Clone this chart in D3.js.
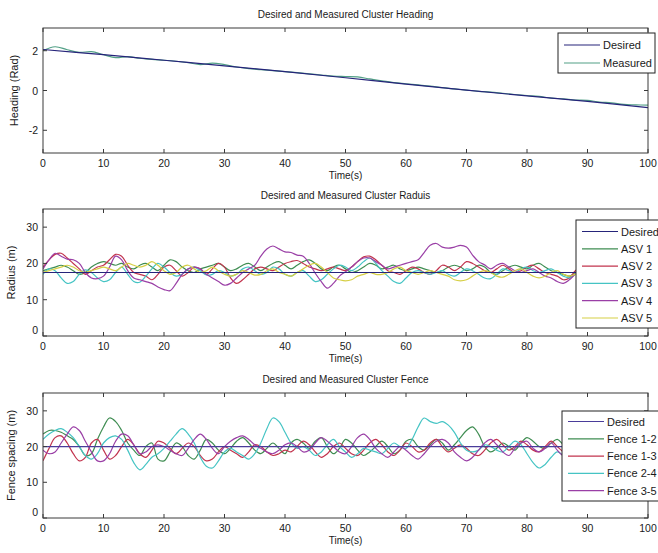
<!DOCTYPE html>
<html>
<head>
<meta charset="utf-8">
<script src="https://cdn.jsdelivr.net/npm/d3@7/dist/d3.min.js"></script>
<style>
  body { margin: 0; background: #fff; }
  svg { display: block; font-family: "Liberation Sans", Arial, sans-serif; }
  .tick-label { font-size: 10.5px; fill: #1a1a1a; }
  .title { font-size: 10px; fill: #1a1a1a; }
  .legend-text { font-size: 11px; fill: #1a1a1a; }
</style>
</head>
<body>
<svg id="chart" width="658" height="553"></svg>
<script>
// ######## data ########

const xTicks = [0, 10, 20, 30, 40, 50, 60, 70, 80, 90, 100];

// heading panel
const headingTicks = [-2, 0, 2];
const headingDesiredT = [0, 10, 20, 30, 40, 50, 60, 70, 80, 90, 100];
const headingDesired = [2.06, 1.8, 1.52, 1.24, 0.95, 0.64, 0.32, 0.02, -0.27, -0.55, -0.86];
const headingMeasuredT = d3.range(0, 101, 2);
const headingMeasured = [2.0, 2.2, 2.05, 1.92, 1.95, 1.8, 1.65, 1.7, 1.62, 1.56,
  1.52, 1.47, 1.4, 1.3, 1.38, 1.3, 1.18, 1.1, 1.05, 1.0,
  0.95, 0.9, 0.84, 0.78, 0.72, 0.7, 0.68, 0.58, 0.48, 0.4,
  0.34, 0.28, 0.22, 0.14, 0.08, 0.02, -0.04, -0.08, -0.14, -0.2,
  -0.25, -0.3, -0.38, -0.42, -0.48, -0.5, -0.58, -0.62, -0.7, -0.72, -0.74];

// radius panel (one sample per second, 0..100 s)
const tSec = d3.range(0, 101, 1);
const radiusTicks = [0, 10, 20, 30];
const radiusDesired = 17.5;
const asv1 = [18, 18.5, 19, 19.5, 19, 18, 17, 17.5, 19, 20, 20.5, 20, 19.5, 20, 19, 18.5, 19.5, 20, 19, 18,
  19.5, 21, 20.5, 19, 18, 17.5, 18.5, 19, 19.5, 20, 19, 18, 18.5, 19.5, 20, 19, 18, 19, 20, 20.5,
  19.5, 18.5, 19.5, 20.5, 21, 20, 18.5, 18, 19, 19.5, 18.5, 17.5, 18, 19, 20, 19.5, 18.5, 19, 19.5, 18.5,
  18, 18.5, 19, 18.5, 18, 17.5, 18, 19, 19.5, 19, 18, 18.5, 19.5, 19, 17.5, 17, 18, 19, 19.5, 19,
  18.5, 19.5, 20, 19, 18, 17.5, 17, 16.5, 17.5, 18.5, 19, 18.5, 18, 18.5, 19, 18, 17.5, 18, 18.5, 19, 18.5];
const asv2 = [19, 21, 22.5, 22.8, 21.5, 20, 18.5, 17, 18, 19, 19.5, 21, 22.5, 22, 19.5, 17.5, 17, 16.5, 15.5, 17,
  19, 19.5, 18, 16.5, 17.5, 19, 18.5, 17, 18.5, 20, 19, 16, 14.5, 15.5, 17, 18.5, 19, 18.5, 18, 19,
  20, 20.5, 20.8, 20, 19, 18.5, 18, 18.5, 19, 18.5, 18, 19, 20.5, 21.8, 22, 21, 19.5, 18, 17.5, 17,
  18, 19, 18.5, 17.5, 17, 18, 19.5, 19, 18, 19, 20.5, 20, 19, 18, 17.5, 18.5, 19.5, 18.5, 17.5, 18,
  19, 19.5, 18.5, 17.5, 17, 16.5, 15.5, 16, 18, 19, 18.5, 18, 17.5, 18, 18.5, 19, 18.5, 18, 17.5, 18, 18.5];
const asv3 = [17, 18.5, 18, 16, 14.5, 15, 17, 18.2, 17.5, 16, 15, 15.5, 17.5, 19, 17, 15, 14.8, 16.5, 18.5, 20,
  19, 17.5, 16.5, 17, 18.5, 19, 18, 16.8, 17, 18, 17.5, 16.5, 17, 18.5, 19, 18, 17, 17.5, 19, 18.5,
  17, 16.5, 17.5, 18, 16.5, 15, 15.5, 17, 18.5, 19.5, 19, 18, 19, 20.5, 21.5, 20, 18, 16.5, 15, 14.5,
  16, 17.5, 18, 17.5, 17, 17.5, 18, 17, 16.5, 17.5, 18.5, 18, 17, 16, 15.8, 17, 18.5, 18, 17.5, 18.5,
  19, 18, 17.5, 18, 18.5, 17.5, 16.5, 16, 17, 18, 18.5, 18, 17, 16.5, 17.5, 18.5, 19, 18, 17, 17.5, 18];
const asv4 = [18.5, 21, 22.8, 22, 21.2, 21, 20, 17.5, 16, 15.8, 16.5, 19, 22, 21, 18, 16, 15.5, 15, 14.5, 13.5,
  12.8, 12.5, 14.5, 17, 18.5, 19, 18.5, 17, 16, 15, 14, 14.5, 16, 17.5, 18.5, 19.5, 22, 24, 24.8, 24,
  23.2, 23, 22.3, 22, 20, 17.3, 15, 13.2, 14.5, 16.5, 17.7, 19, 20.5, 21.5, 21.5, 20.5, 19.5, 18.5, 19, 19.5,
  20, 20.5, 21, 23, 25, 25.5, 24.5, 24.2, 24.5, 25, 24.5, 22.3, 20.5, 19.6, 18.5, 19.5, 20, 19, 18, 17.5,
  18, 18.5, 17.5, 16.5, 16, 15, 14.5, 15.5, 17, 18, 18.5, 18, 17.5, 18, 19, 18.5, 17.5, 17, 17.5, 18, 18.5];
const asv5 = [17.5, 18, 18.5, 19, 19.5, 19, 18, 17.5, 18, 18.5, 19, 18.5, 18, 19, 20, 19.5, 19, 19.5, 20.5, 19.5,
  18, 17, 17.5, 19, 19.5, 18.5, 17.5, 18, 19, 18, 17, 16.5, 17, 18, 17.5, 16.8, 17, 18, 18.5, 17.5,
  17, 16.5, 17.5, 18.5, 19.5, 20, 19, 17.5, 16, 15.5, 15.2, 15.5, 16.5, 17, 17.5, 17, 17, 17.5, 18.5, 19,
  18, 17.5, 17, 17.5, 18, 17.5, 17, 16.5, 15.5, 15.2, 15.5, 16.5, 17.5, 18, 17.5, 16.5, 16.2, 17, 18, 18.5,
  17.5, 16.5, 16, 16.5, 17.5, 18, 17, 16.5, 17, 17.5, 18, 17.5, 17, 16.5, 17, 18, 18.5, 18, 17, 16.5, 17];

// fence panel (one sample per second, 0..100 s)
const fenceTicks = [0, 10, 20, 30];
const fenceDesired = 20;
const fence12 = [23.5, 24.5, 24.5, 24, 23, 22, 20, 17.5, 18, 22, 25.5, 28, 27, 24.5, 21, 19, 17.5, 20, 21, 16.5,
  16, 18.5, 21, 20, 17.5, 16.5, 19, 22, 21, 19, 18, 19.5, 21.5, 22.5, 21, 19, 18, 19.5, 21, 19.5,
  18, 21, 22, 21, 19.5, 21.5, 22.5, 20, 18, 19.5, 22, 21, 19, 17.5, 18.5, 20, 21.5, 20, 18, 19,
  21.5, 22, 20, 19, 20.5, 22, 21, 19, 20.5, 22.5, 24.5, 25.5, 23.5, 20, 18.5, 19.5, 21, 20, 19, 21,
  22.5, 21.5, 20, 19.5, 21, 22, 20.5, 19, 18.5, 20, 21.5, 21, 19.5, 19, 20.5, 21, 20, 19, 19.5, 21, 20.5];
const fence13 = [16, 19.5, 22.5, 23, 21, 18, 16, 17, 21, 22, 19, 16.5, 17.5, 20, 22, 20.5, 18, 17, 19, 21.5,
  21, 19.5, 18, 19.5, 21, 20, 17.5, 16, 16.5, 18.5, 20, 19, 18, 17, 18.5, 20.5, 20, 18.5, 17.5, 18,
  19, 18.5, 20, 21.5, 20.5, 18.5, 17, 18, 20, 21, 19.5, 18, 17.5, 19, 21, 22, 20.5, 18.5, 17.5, 19,
  21, 20, 18.5, 19, 21, 22, 20, 18.5, 19.5, 20.5, 19.5, 18, 17.5, 19, 21, 22, 20.5, 19, 20, 21.5,
  20.5, 19, 18.5, 20, 21.5, 20, 18.5, 17.5, 19, 20.5, 21, 20, 19, 18.5, 20, 21, 20.5, 19.5, 19, 20, 21];
const fence24 = [22, 23.5, 24.5, 25, 24, 22.5, 20, 17.5, 16.5, 18, 21, 22.5, 23, 22, 19, 15.5, 13.5, 15, 17, 18,
  19.5, 21.5, 23.5, 25, 23.5, 21, 17, 14.5, 14, 16, 18.5, 19.5, 18.5, 17.5, 16.5, 18, 21, 25, 28, 27,
  24, 21, 19.5, 20, 19, 17.5, 18.5, 20.5, 22, 20, 18.5, 17, 18, 19.5, 19, 18.5, 18, 19.5, 21, 20,
  19.5, 22, 25.5, 28, 27, 26.5, 27, 26, 24, 21, 19, 18.5, 19, 20.5, 20, 19, 18.5, 20, 21.5, 20.5,
  18, 15.5, 14, 15, 17, 18.5, 17.5, 16.5, 18, 20, 21, 20, 18.5, 19, 21, 22, 20.5, 19, 18.5, 19.5, 20.5];
const fence35 = [19, 18, 18.5, 21, 23.5, 25.5, 24.5, 21.5, 18.5, 16, 16, 18, 21.5, 23.5, 23, 20.5, 18, 18.5, 20, 20.5,
  20, 19, 18, 17.5, 19.5, 22, 23.5, 22, 19.5, 18, 20, 21.5, 22.5, 23, 22, 20.5, 19.5, 18.5, 18, 19,
  20.5, 21, 20, 18.5, 19, 21, 22.5, 21.5, 20, 18.5, 18, 20, 22.5, 23.5, 22, 19.5, 18, 17, 18.5, 20,
  19, 17.5, 16.5, 18, 20, 21.5, 22, 21, 18.5, 17, 16, 17, 19, 21, 22, 20.5, 18.5, 17.5, 19.5, 21,
  21.5, 19.5, 18.5, 19.5, 21, 19, 17.5, 18.5, 20, 21, 20.5, 19, 18, 19, 20.5, 21, 20, 19, 19.5, 20.5, 21];

// ######## colours ########
const navy = "#26247a";
const cGreen = "#3f8d52";
const cRed = "#c2344e";
const cCyan = "#45c4c4";
const cPurple = "#9a3fa6";
const cYellow = "#d6cf45";
const cMeasured = "#52a086";

const svg = d3.select("#chart");
const left = 43, right = 648;

const x = d3.scaleLinear().domain([0, 100]).range([left, right]);

function drawPanel(p) {
    const y = d3.scaleLinear().domain(p.yDomain).range([p.bottom, p.top]);
    const g = svg.append("g");

    const clipId = "clip-" + p.id;
    svg.append("clipPath").attr("id", clipId)
        .append("rect")
        .attr("x", left).attr("y", p.top)
        .attr("width", right - left).attr("height", p.bottom - p.top);

    // Series lines
    const line = d3.line()
        .x(d => x(d[0]))
        .y(d => y(d[1]))
        .curve(d3.curveCatmullRom.alpha(0.5));

    const plot = g.append("g").attr("clip-path", "url(#" + clipId + ")");
    p.series.forEach(s => {
        plot.append("path")
            .datum(s.t.map((t, i) => [t, s.v[i]]))
            .attr("fill", "none")
            .attr("stroke", s.color)
            .attr("stroke-width", 1.2)
            .attr("d", line);
    });

    // Box with inward ticks on all sides (matlab style)
    g.append("rect")
        .attr("x", left).attr("y", p.top)
        .attr("width", right - left).attr("height", p.bottom - p.top)
        .attr("fill", "none").attr("stroke", "#3a3a3a").attr("stroke-width", 1);

    const tickLen = 4;
    xTicks.forEach(t => {
        g.append("line").attr("x1", x(t)).attr("x2", x(t))
            .attr("y1", p.bottom).attr("y2", p.bottom - tickLen)
            .attr("stroke", "#3a3a3a");
        g.append("line").attr("x1", x(t)).attr("x2", x(t))
            .attr("y1", p.top).attr("y2", p.top + tickLen)
            .attr("stroke", "#3a3a3a");
        g.append("text").attr("class", "tick-label")
            .attr("x", x(t)).attr("y", p.bottom + 14)
            .attr("text-anchor", "middle")
            .text(t);
    });
    p.yTicks.forEach(v => {
        g.append("line").attr("x1", left).attr("x2", left + tickLen)
            .attr("y1", y(v)).attr("y2", y(v)).attr("stroke", "#3a3a3a");
        g.append("line").attr("x1", right).attr("x2", right - tickLen)
            .attr("y1", y(v)).attr("y2", y(v)).attr("stroke", "#3a3a3a");
        g.append("text").attr("class", "tick-label")
            .attr("x", left - 5).attr("y", y(v) + (v === 0 && p.yDomain[0] === 0 ? -2 : 4))
            .attr("text-anchor", "end")
            .text(v);
    });

    // Titles
    g.append("text").attr("class", "title")
        .attr("x", (left + right) / 2).attr("y", p.top - 10)
        .attr("text-anchor", "middle").text(p.title);
    g.append("text").attr("class", "title")
        .attr("x", (left + right) / 2).attr("y", p.bottom + 26)
        .attr("text-anchor", "middle").text("Time(s)");
    g.append("text").attr("class", "title")
        .attr("transform", "translate(" + p.yLabelX + "," + (p.top + p.bottom) / 2 + ") rotate(-90)")
        .attr("text-anchor", "middle").style("font-size", "11px").text(p.yLabel);

    // Legend
    const lg = g.append("g");
    lg.append("rect")
        .attr("x", p.legend.x).attr("y", p.legend.y)
        .attr("width", p.legend.w).attr("height", p.legend.h)
        .attr("fill", "#fff").attr("stroke", "#222").attr("stroke-width", 1);
    p.series.slice().sort((a, b) => a.order - b.order).forEach((s, i) => {
        const ry = p.legend.y + p.legend.first + i * p.legend.step;
        lg.append("line")
            .attr("x1", p.legend.x + 6).attr("x2", p.legend.x + 42)
            .attr("y1", ry).attr("y2", ry)
            .attr("stroke", s.color).attr("stroke-width", 1.2);
        lg.append("text").attr("class", "legend-text")
            .attr("x", p.legend.x + 45).attr("y", ry + 4)
            .text(s.name);
    });
}

// ######## Heading ########
drawPanel({
    id: "heading", top: 28, bottom: 153,
    yDomain: [-Math.PI, Math.PI], yTicks: headingTicks,
    title: "Desired and Measured Cluster Heading", yLabel: "Heading (Rad)", yLabelX: 18,
    legend: { x: 558, y: 33, w: 97, h: 40, first: 12, step: 18 },
    series: [
        { name: "Measured", order: 1, color: cMeasured, t: headingMeasuredT, v: headingMeasured },
        { name: "Desired", order: 0, color: navy, t: headingDesiredT, v: headingDesired }
    ]
});

// ######## Radius ########
drawPanel({
    id: "radius", top: 209, bottom: 336,
    yDomain: [0, 35], yTicks: radiusTicks,
    title: "Desired and Measured Cluster Raduis", yLabel: "Radius (m)", yLabelX: 15,
    legend: { x: 576, y: 220, w: 100, h: 108, first: 11.5, step: 17.3 },
    series: [
        { name: "ASV 1", order: 1, color: cGreen, t: tSec, v: asv1 },
        { name: "ASV 2", order: 2, color: cRed, t: tSec, v: asv2 },
        { name: "ASV 3", order: 3, color: cCyan, t: tSec, v: asv3 },
        { name: "ASV 4", order: 4, color: cPurple, t: tSec, v: asv4 },
        { name: "ASV 5", order: 5, color: cYellow, t: tSec, v: asv5 },
        { name: "Desired", order: 0, color: navy, t: [0, 100], v: [radiusDesired, radiusDesired] }
    ]
});

// ######## Fence ########
drawPanel({
    id: "fence", top: 393, bottom: 518,
    yDomain: [0, 35], yTicks: fenceTicks,
    title: "Desired and Measured Cluster Fence", yLabel: "Fence spacing (m)", yLabelX: 15,
    legend: { x: 562, y: 411, w: 110, h: 90, first: 10.5, step: 17.3 },
    series: [
        { name: "Fence 1-2", order: 1, color: cGreen, t: tSec, v: fence12 },
        { name: "Fence 1-3", order: 2, color: cRed, t: tSec, v: fence13 },
        { name: "Fence 2-4", order: 3, color: cCyan, t: tSec, v: fence24 },
        { name: "Fence 3-5", order: 4, color: cPurple, t: tSec, v: fence35 },
        { name: "Desired", order: 0, color: "#4a3c9a", t: [0, 100], v: [fenceDesired, fenceDesired] }
    ]
});
</script>
</body>
</html>
